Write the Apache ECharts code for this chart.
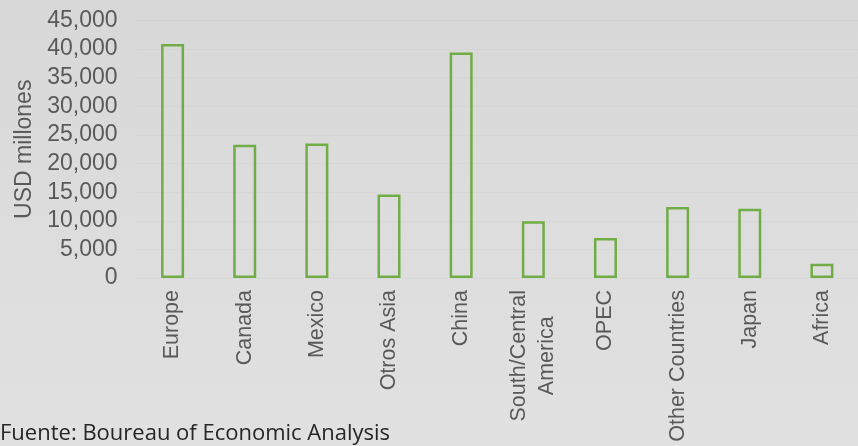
<!DOCTYPE html>
<html>
<head>
<meta charset="utf-8">
<script src="https://cdn.jsdelivr.net/npm/echarts@6/dist/echarts.min.js"></script>
<style>
  html, body { margin: 0; padding: 0; }
  #chart { width: 858px; height: 446px; }
</style>
</head>
<body>
<div id="chart"></div>
<script>
// Trade by partner region, in millions of USD
const categories = ['Europe', 'Canada', 'Mexico', 'Otros Asia', 'China', 'South/Central\nAmerica', 'OPEC', 'Other Countries', 'Japan', 'Africa'];
const values = [40900, 23300, 23500, 14600, 39400, 9900, 7000, 12400, 12100, 2500];
const yTicks = { min: 0, max: 45000, interval: 5000 };
const axisTitle = 'USD millones';
const sourceNote = 'Fuente: Boureau of Economic Analysis';

const labelFont = '"Liberation Sans", Arial, sans-serif';
const catFontSize = 21.5;

// Two-line category names are centred line by line, with the block's end kept at the axis
function categoryItem(name) {
  if (name.indexOf('\n') < 0) return name;
  const ctx = document.createElement('canvas').getContext('2d');
  ctx.font = catFontSize + 'px ' + labelFont;
  const w = Math.max(...name.split('\n').map(s => ctx.measureText(s).width));
  return {
    value: name,
    textStyle: { align: 'center', lineHeight: 28, padding: [16, w, 0, 0] }
  };
}

const chart = echarts.init(document.getElementById('chart'));
chart.setOption({
  animation: false,
  backgroundColor: {
    type: 'linear', x: 0, y: 0, x2: 0, y2: 1,
    colorStops: [{ offset: 0, color: '#d8d8d8' }, { offset: 1, color: '#e1e1e1' }]
  },
  grid: { left: 136.5, right: -10, top: 20.5, bottom: 168 },
  xAxis: {
    type: 'category',
    data: categories.map(categoryItem),
    axisLine: { show: false },
    axisTick: { show: false },
    axisLabel: {
      rotate: 90,
      interval: 0,
      margin: 12,
      color: '#595959',
      fontFamily: labelFont,
      fontSize: catFontSize
    }
  },
  yAxis: {
    type: 'value',
    min: yTicks.min,
    max: yTicks.max,
    interval: yTicks.interval,
    name: axisTitle,
    nameLocation: 'middle',
    nameGap: 96,
    nameTextStyle: {
      color: '#595959',
      fontFamily: labelFont,
      fontSize: 23
    },
    axisLine: { show: false },
    axisTick: { show: false },
    splitLine: { lineStyle: { color: 'rgba(0,0,0,0.02)', width: 1 } },
    axisLabel: {
      margin: 19,
      color: '#595959',
      fontFamily: labelFont,
      fontSize: 23,
      formatter: v => v.toLocaleString('en-US')
    }
  },
  series: [{
    type: 'bar',
    data: values,
    barWidth: 23,
    itemStyle: {
      color: 'rgba(0,0,0,0)',
      borderColor: '#70ad47',
      borderWidth: 2.5
    }
  }],
  graphic: [{
    type: 'text',
    left: 0,
    top: 423,
    style: {
      text: sourceNote,
      fill: '#262626',
      font: '22px "Open Sans", sans-serif'
    }
  }]
});
</script>
</body>
</html>
